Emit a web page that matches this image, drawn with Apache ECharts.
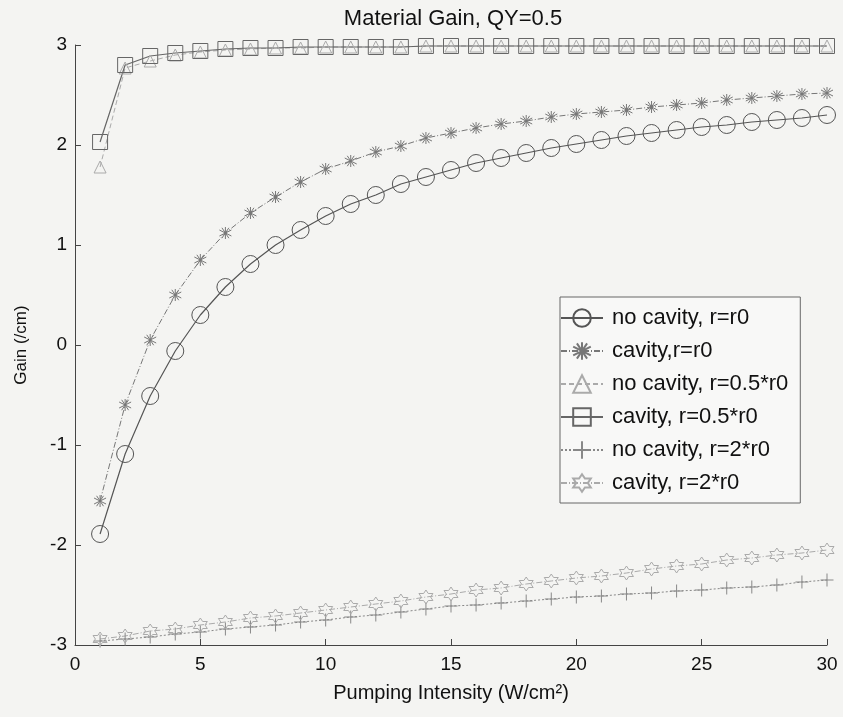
<!DOCTYPE html>
<html><head><meta charset="utf-8">
<script src="https://cdn.jsdelivr.net/npm/echarts@6/dist/echarts.min.js"></script>
<style>html,body{margin:0;padding:0;background:#f4f4f2;}#c{width:843px;height:717px;}</style>
</head><body><div id="c"></div>
<script>
var xValues = [1,2,3,4,5,6,7,8,9,10,11,12,13,14,15,16,17,18,19,20,21,22,23,24,25,26,27,28,29,30];
var noCavityR0 = [-1.89,-1.09,-0.51,-0.06,0.30,0.58,0.81,1.00,1.15,1.29,1.41,1.50,1.61,1.68,1.75,1.82,1.87,1.92,1.97,2.01,2.05,2.09,2.12,2.15,2.18,2.20,2.23,2.25,2.27,2.30];
var cavityR0 = [-1.56,-0.60,0.05,0.50,0.85,1.12,1.32,1.48,1.63,1.76,1.84,1.93,1.99,2.07,2.12,2.17,2.21,2.24,2.28,2.31,2.33,2.35,2.38,2.40,2.42,2.45,2.47,2.49,2.51,2.52];
var noCavityHalf = [1.78,2.77,2.84,2.90,2.93,2.95,2.96,2.97,2.97,2.98,2.98,2.98,2.98,2.99,2.99,2.99,2.99,2.99,2.99,2.99,2.99,2.99,2.99,2.99,2.99,2.99,2.99,2.99,2.99,2.99];
var cavityHalf = [2.03,2.80,2.89,2.92,2.94,2.96,2.97,2.97,2.98,2.98,2.98,2.98,2.98,2.99,2.99,2.99,2.99,2.99,2.99,2.99,2.99,2.99,2.99,2.99,2.99,2.99,2.99,2.99,2.99,2.99];
var noCavityDouble = [-2.96,-2.94,-2.92,-2.89,-2.87,-2.84,-2.82,-2.80,-2.77,-2.75,-2.72,-2.70,-2.67,-2.64,-2.61,-2.60,-2.58,-2.56,-2.54,-2.52,-2.51,-2.49,-2.48,-2.46,-2.45,-2.43,-2.42,-2.40,-2.37,-2.35];
var cavityDouble = [-2.94,-2.91,-2.86,-2.84,-2.80,-2.77,-2.73,-2.71,-2.68,-2.65,-2.62,-2.59,-2.56,-2.52,-2.49,-2.45,-2.43,-2.39,-2.36,-2.33,-2.31,-2.28,-2.24,-2.21,-2.19,-2.15,-2.13,-2.10,-2.08,-2.05];
var seriesNames = ['no cavity, r=r0','cavity,r=r0','no cavity, r=0.5*r0','cavity, r=0.5*r0','no cavity, r=2*r0','cavity, r=2*r0'];
var xTicks = [0,5,10,15,20,25,30];
var yTicks = [-3,-2,-1,0,1,2,3];

var STAR = 'path://M0,-10L0,10M-8.66,-5L8.66,5M-8.66,5L8.66,-5M-5,-8.66L5,8.66M5,-8.66L-5,8.66';
var PLUS = 'path://M0,-10L0,10M-10,0L10,0';
var HEX = 'path://M0,-10L2.89,-5L8.66,-5L5.77,0L8.66,5L2.89,5L0,10L-2.89,5L-8.66,5L-5.77,0L-8.66,-5L-2.89,-5Z';

function pairs(arr){ return arr.map(function(v,i){ return [xValues[i], v]; }); }
function mk(name, data, symbol, size, color, lineType, width){
  return {
    name: name, type: 'line', data: pairs(data), symbol: symbol, symbolSize: size,
    showAllSymbol: true, animation: false,
    lineStyle: {color: color, width: width || 1, type: lineType},
    itemStyle: {color: 'rgba(0,0,0,0)', borderColor: color, borderWidth: 1}
  };
}
var FONT = 'Liberation Sans';
var chart = echarts.init(document.getElementById('c'));
chart.setOption({
  backgroundColor: '#f4f4f2',
  animation: false,
  title: {text: 'Material Gain, QY=0.5', left: 448, textAlign: 'center', top: 3,
    textStyle: {fontFamily: FONT, fontSize: 22, fontWeight: 'normal', color: '#111'}},
  grid: {left: 75, right: 16, top: 45, bottom: 72},
  legend: {
    orient: 'vertical', left: 560, top: 297, width: 243,
    backgroundColor: '#f8f8f7', borderColor: '#666', borderWidth: 1,
    padding: [10, 12, 9, 0], itemGap: 11, itemWidth: 42, itemHeight: 22,
    textStyle: {fontFamily: FONT, fontSize: 22, color: '#111', padding: [0,0,0,4]},
    data: seriesNames
  },
  xAxis: {
    type: 'value', min: 0, max: 30, interval: 5,
    name: 'Pumping Intensity (W/cm²)', nameLocation: 'middle', nameGap: 38,
    nameTextStyle: {fontFamily: FONT, fontSize: 20, color: '#111'},
    axisLine: {onZero: false, lineStyle: {color: '#444'}},
    axisTick: {inside: true, length: 6, lineStyle: {color: '#444'}},
    axisLabel: {fontFamily: FONT, fontSize: 19, color: '#111', margin: 10},
    splitLine: {show: false}
  },
  yAxis: {
    type: 'value', min: -3, max: 3, interval: 1,
    name: 'Gain (/cm)', nameLocation: 'middle', nameGap: 45, nameRotate: 90,
    nameTextStyle: {fontFamily: FONT, fontSize: 17, color: '#111'},
    axisLine: {show: true, onZero: false, lineStyle: {color: '#444'}},
    axisTick: {show: true, inside: true, length: 6, lineStyle: {color: '#444'}},
    axisLabel: {fontFamily: FONT, fontSize: 19, color: '#111', margin: 8},
    splitLine: {show: false}
  },
  series: [
    mk(seriesNames[0], noCavityR0, 'circle', 17, '#555', 'solid', 1.2),
    mk(seriesNames[1], cavityR0, STAR, 12, '#777', [6,2,1,2], 1),
    mk(seriesNames[2], noCavityHalf, 'triangle', 12, '#aaa', [5,3], 1),
    mk(seriesNames[3], cavityHalf, 'rect', 15, '#666', 'solid', 1.2),
    mk(seriesNames[4], noCavityDouble, PLUS, 13, '#888', [2,2], 1),
    mk(seriesNames[5], cavityDouble, HEX, 14, '#aaa', [6,2,1,2], 1)
  ]
});
</script></body></html>
